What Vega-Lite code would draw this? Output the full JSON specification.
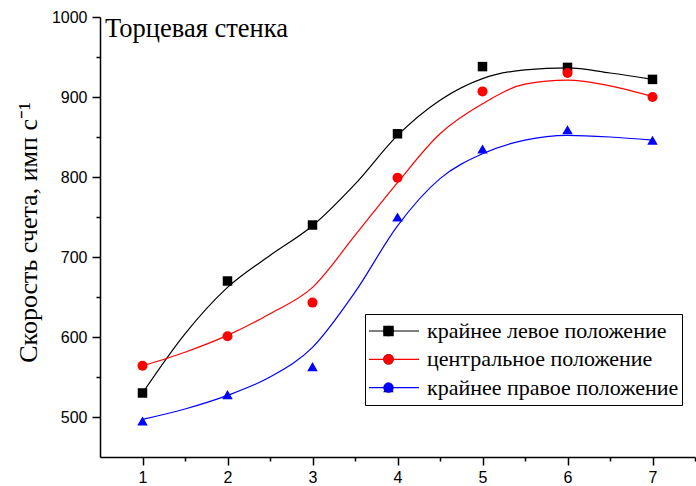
{
  "$schema": "https://vega.github.io/schema/vega-lite/v6.json",
  "width": 595,
  "height": 440,
  "autosize": {"type": "none"},
  "padding": {"left": 100, "top": 17, "right": 1, "bottom": 29},
  "background": "white",
  "config": {
    "view": {"stroke": null},
    "axis": {"grid": false, "domainColor": "black", "tickColor": "black", "labelColor": "black", "labelFont": "Liberation Sans", "labelFontSize": 16, "domainWidth": 1.5, "tickWidth": 1.5, "labelOverlap": false, "labelFlush": false}
  },
  "datasets": {
    "curve": [
      {"series": "крайнее левое положение", "x": 1, "y": 530},
      {"series": "крайнее левое положение", "x": 1.5, "y": 604},
      {"series": "крайнее левое положение", "x": 2, "y": 662},
      {"series": "крайнее левое положение", "x": 2.5, "y": 702},
      {"series": "крайнее левое положение", "x": 3, "y": 739},
      {"series": "крайнее левое положение", "x": 3.5, "y": 791},
      {"series": "крайнее левое положение", "x": 4, "y": 852},
      {"series": "крайнее левое положение", "x": 4.5, "y": 896},
      {"series": "крайнее левое положение", "x": 5, "y": 923},
      {"series": "крайнее левое положение", "x": 5.5, "y": 934},
      {"series": "крайнее левое положение", "x": 6, "y": 936.5},
      {"series": "крайнее левое положение", "x": 6.5, "y": 930},
      {"series": "крайнее левое положение", "x": 7, "y": 922},
      {"series": "центральное положение", "x": 1, "y": 564},
      {"series": "центральное положение", "x": 1.5, "y": 581},
      {"series": "центральное положение", "x": 2, "y": 602},
      {"series": "центральное положение", "x": 2.5, "y": 629},
      {"series": "центральное положение", "x": 3, "y": 662},
      {"series": "центральное положение", "x": 3.5, "y": 727},
      {"series": "центральное положение", "x": 4, "y": 793},
      {"series": "центральное положение", "x": 4.5, "y": 854},
      {"series": "центральное положение", "x": 5, "y": 891.5},
      {"series": "центральное положение", "x": 5.5, "y": 916},
      {"series": "центральное положение", "x": 6, "y": 921},
      {"series": "центральное положение", "x": 6.5, "y": 914},
      {"series": "центральное положение", "x": 7, "y": 900.6},
      {"series": "крайнее правое положение", "x": 1, "y": 497},
      {"series": "крайнее правое положение", "x": 1.5, "y": 510},
      {"series": "крайнее правое положение", "x": 2, "y": 527},
      {"series": "крайнее правое положение", "x": 2.5, "y": 550},
      {"series": "крайнее правое положение", "x": 3, "y": 587},
      {"series": "крайнее правое положение", "x": 3.5, "y": 656},
      {"series": "крайнее правое положение", "x": 4, "y": 739},
      {"series": "крайнее правое положение", "x": 4.5, "y": 798},
      {"series": "крайнее правое положение", "x": 5, "y": 829},
      {"series": "крайнее правое положение", "x": 5.5, "y": 846},
      {"series": "крайнее правое положение", "x": 6, "y": 852},
      {"series": "крайнее правое положение", "x": 6.5, "y": 850},
      {"series": "крайнее правое положение", "x": 7, "y": 846}
    ],
    "points": [
      {"series": "крайнее левое положение", "x": 1, "y": 530},
      {"series": "крайнее левое положение", "x": 2, "y": 670},
      {"series": "крайнее левое положение", "x": 3, "y": 740},
      {"series": "крайнее левое положение", "x": 4, "y": 854},
      {"series": "крайнее левое положение", "x": 5, "y": 938},
      {"series": "крайнее левое положение", "x": 6, "y": 937},
      {"series": "крайнее левое положение", "x": 7, "y": 922},
      {"series": "центральное положение", "x": 1, "y": 564},
      {"series": "центральное положение", "x": 2, "y": 601},
      {"series": "центральное положение", "x": 3, "y": 643},
      {"series": "центральное положение", "x": 4, "y": 799},
      {"series": "центральное положение", "x": 5, "y": 907},
      {"series": "центральное положение", "x": 6, "y": 930},
      {"series": "центральное положение", "x": 7, "y": 900},
      {"series": "крайнее правое положение", "x": 1, "y": 495},
      {"series": "крайнее правое положение", "x": 2, "y": 528},
      {"series": "крайнее правое положение", "x": 3, "y": 563},
      {"series": "крайнее правое положение", "x": 4, "y": 750},
      {"series": "крайнее правое положение", "x": 5, "y": 835},
      {"series": "крайнее правое положение", "x": 6, "y": 859},
      {"series": "крайнее правое положение", "x": 7, "y": 846}
    ],
    "title": [
      {"x": 0.56, "y": 975.5, "label": "Торцевая стенка"}
    ]
  },
  "resolve": {"axis": {"x": "independent", "y": "independent"}},
  "layer": [
    {
      "data": {"name": "curve"},
      "mark": {"type": "line", "interpolate": "monotone", "strokeWidth": 1.2},
      "encoding": {
        "x": {
          "field": "x", "type": "quantitative",
          "scale": {"domain": [0.5, 7.5], "nice": false, "zero": false},
          "axis": {
            "orient": "bottom",
            "title": null,
            "format": "d",
            "values": [1, 2, 3, 4, 5, 6, 7],
            "tickSize": 8,
            "labelPadding": 4
          }
        },
        "y": {
          "field": "y", "type": "quantitative",
          "scale": {"domain": [450, 1000], "nice": false, "zero": false},
          "axis": {
            "orient": "left",
            "title": "Скорость счета, имп с⁻¹",
            "titleFont": "Liberation Serif",
            "titleFontSize": 26,
            "titleFontWeight": "normal",
            "titleColor": "black",
            "titlePadding": 10,
            "titleY": 215,
            "values": [500, 600, 700, 800, 900, 1000],
            "format": "d",
            "tickSize": 8,
            "labelPadding": 5
          }
        },
        "color": {
          "field": "series", "type": "nominal",
          "scale": {"domain": ["крайнее левое положение", "центральное положение", "крайнее правое положение"], "range": ["#000000", "#ff0000", "#0000ff"]},
          "legend": {
            "title": null, "orient": "none", "legendX": 265, "legendY": 297,
            "symbolType": "stroke", "symbolSize": 2500, "symbolStrokeWidth": 1.2,
            "labelFont": "Liberation Serif", "labelFontSize": 22, "labelColor": "black",
            "labelOffset": 7, "labelLimit": 500, "clipHeight": 28, "rowPadding": 0.3,
            "labelExpr": "datum.label + '\u00a0\u00a0\u00a0\u00a0\u00a0\u00a0'",
            "padding": 3, "strokeColor": "black", "fillColor": "white"
          }
        }
      }
    },
    {
      "data": {"name": "points"},
      "mark": {"type": "point", "filled": true, "opacity": 1, "strokeWidth": 0},
      "encoding": {
        "x": {
          "field": "x", "type": "quantitative",
          "axis": {
            "orient": "bottom", "title": null, "labels": false, "domain": false,
            "values": [1.5, 2.5, 3.5, 4.5, 5.5, 6.5, 7.5], "tickSize": 4
          }
        },
        "y": {
          "field": "y", "type": "quantitative",
          "axis": {
            "orient": "left", "title": null, "labels": false, "domain": false,
            "values": [550, 650, 750, 850, 950], "tickSize": 4
          }
        },
        "shape": {
          "field": "series", "type": "nominal",
          "sort": ["крайнее левое положение", "центральное положение", "крайнее правое положение"],
          "scale": {"range": ["square", "circle", "triangle-up"]},
          "legend": {
            "title": null, "orient": "none", "legendX": 280, "legendY": 297,
            "symbolSize": 110, "symbolStrokeWidth": 0, "symbolOpacity": 1,
            "labelFont": "Liberation Serif", "labelFontSize": 1, "labelOpacity": 0,
            "labelOffset": 0, "labelLimit": 500, "clipHeight": 28, "rowPadding": 0.3, "padding": 3
          }
        },
        "fill": {
          "field": "series", "type": "nominal",
          "sort": ["крайнее левое положение", "центральное положение", "крайнее правое положение"],
          "scale": {"range": ["#000000", "#ff0000", "#0000ff"]},
          "legend": {
            "title": null, "orient": "none", "legendX": 280, "legendY": 297,
            "symbolSize": 110, "symbolStrokeWidth": 0, "symbolOpacity": 1,
            "labelFont": "Liberation Serif", "labelFontSize": 1, "labelOpacity": 0,
            "labelOffset": 0, "labelLimit": 500, "clipHeight": 28, "rowPadding": 0.3, "padding": 3
          }
        },
        "size": {
          "field": "series", "type": "nominal",
          "sort": ["крайнее левое положение", "центральное положение", "крайнее правое положение"],
          "scale": {"range": [90, 110, 150]},
          "legend": null
        }
      }
    },
    {
      "data": {"name": "title"},
      "mark": {"type": "text", "align": "left", "baseline": "alphabetic", "font": "Liberation Serif", "fontSize": 26.5, "color": "black"},
      "encoding": {
        "x": {"field": "x", "type": "quantitative", "axis": null},
        "y": {"field": "y", "type": "quantitative", "axis": null},
        "text": {"field": "label", "type": "nominal"}
      }
    }
  ]
}
